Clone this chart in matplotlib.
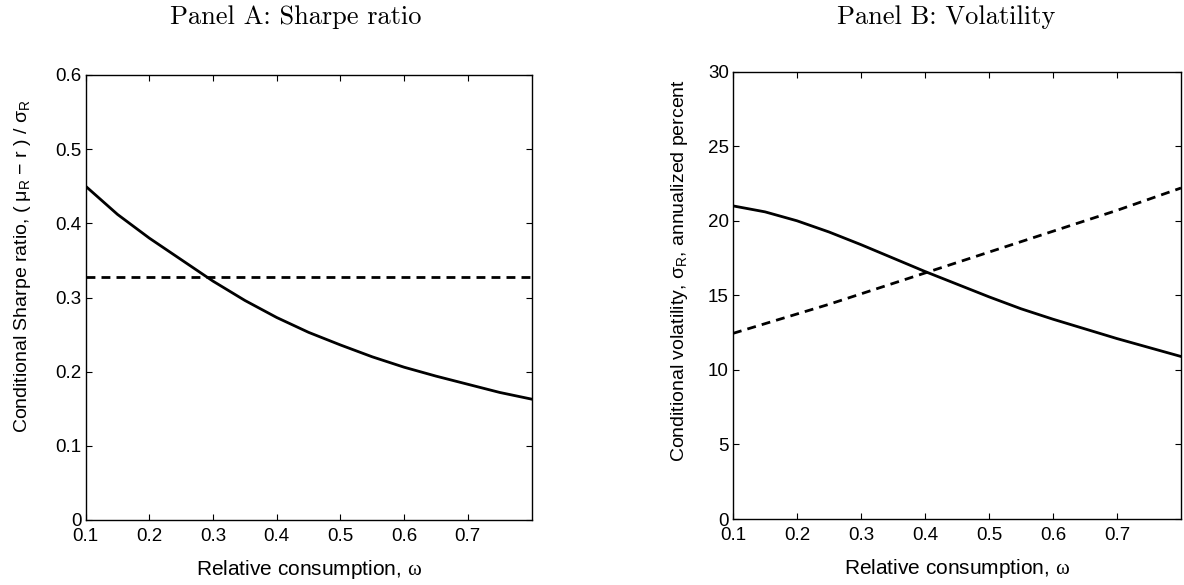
"""Two-panel figure: conditional Sharpe ratio and volatility vs relative consumption."""

import matplotlib
matplotlib.use("Agg")
import matplotlib.pyplot as plt

plt.rcParams["font.family"] = ["Liberation Sans", "DejaVu Sans"]
plt.rcParams["mathtext.fontset"] = "custom"
plt.rcParams["mathtext.rm"] = "Liberation Serif"
plt.rcParams["mathtext.sf"] = "Liberation Sans"
plt.rcParams["mathtext.it"] = "Liberation Sans"

# relative consumption grid
omega = [0.10, 0.15, 0.20, 0.25, 0.30, 0.35, 0.40, 0.45,
         0.50, 0.55, 0.60, 0.65, 0.70, 0.75, 0.80]

# Panel A: conditional Sharpe ratio
sharpe_model = [0.450, 0.412, 0.380, 0.351, 0.322, 0.296, 0.273, 0.253,
                0.236, 0.220, 0.206, 0.194, 0.183, 0.172, 0.163]
sharpe_const = [0.328] * len(omega)

# Panel B: conditional volatility, annualized percent
vol_solid = [21.0, 20.6, 20.0, 19.25, 18.4, 17.5, 16.6, 15.75,
             14.9, 14.1, 13.4, 12.75, 12.1, 11.5, 10.9]
vol_dashed = [12.45, 13.1, 13.75, 14.4, 15.1, 15.8, 16.5, 17.2,
              17.9, 18.6, 19.3, 20.0, 20.7, 21.45, 22.2]

x_ticks = [0.1, 0.2, 0.3, 0.4, 0.5, 0.6, 0.7]
a_ticks = [0, 0.1, 0.2, 0.3, 0.4, 0.5, 0.6]
b_ticks = [0, 5, 10, 15, 20, 25, 30]

W, H = 1184, 585
fig = plt.figure(figsize=(W / 100, H / 100), dpi=100)


def px_axes(x0, x1, top, bottom):
    return fig.add_axes([x0 / W, 1 - bottom / H, (x1 - x0) / W, (bottom - top) / H])


def style(ax):
    for s in ax.spines.values():
        s.set_linewidth(1.0)
    ax.tick_params(direction="in", top=True, right=True, length=4, width=0.8,
                   labelsize=13.5)
    ax.tick_params(axis="x", pad=6)
    ax.tick_params(axis="y", pad=3)
    ax.set_xlim(0.1, 0.8)
    ax.set_xticks(x_ticks)
    ax.set_xticklabels([f"{t:g}" for t in x_ticks])
    ax.set_xlabel("Relative consumption, $\\mathrm{\\omega}$", fontsize=15, labelpad=9)


lw = 2.0
dash = (3.2, 2.2)

axA = px_axes(85.7, 531.5, 75, 520)
axA.plot(omega, sharpe_model, color="black", lw=lw)
axA.plot(omega, sharpe_const, color="black", lw=lw, dashes=dash)
axA.set_ylim(0, 0.6)
axA.set_yticks(a_ticks)
axA.set_yticklabels([f"{t:g}" for t in a_ticks])
style(axA)
axA.set_ylabel("Conditional Sharpe ratio, ( $\\mu_{\\mathsf{R}}$ \u2212 r ) / $\\sigma_{\\mathsf{R}}$",
               fontsize=14)
axA.yaxis.set_label_coords(-0.118, 0.57)

axB = px_axes(733, 1181, 71.7, 519)
axB.plot(omega, vol_solid, color="black", lw=lw)
axB.plot(omega, vol_dashed, color="black", lw=lw, dashes=dash)
axB.set_ylim(0, 30)
axB.set_yticks(b_ticks)
style(axB)
axB.set_ylabel("Conditional volatility, $\\sigma_{\\mathsf{R}}$, annualized percent",
               fontsize=14)
axB.yaxis.set_label_coords(-0.097, 0.555)

fig.text(296 / W, 1 - 24 / H, "Panel A: Sharpe ratio", fontfamily="cmr10",
         fontsize=19, ha="center", va="baseline")
fig.text(946 / W, 1 - 24 / H, "Panel B: Volatility", fontfamily="cmr10",
         fontsize=19, ha="center", va="baseline")

fig.savefig("out.png", dpi=100)
